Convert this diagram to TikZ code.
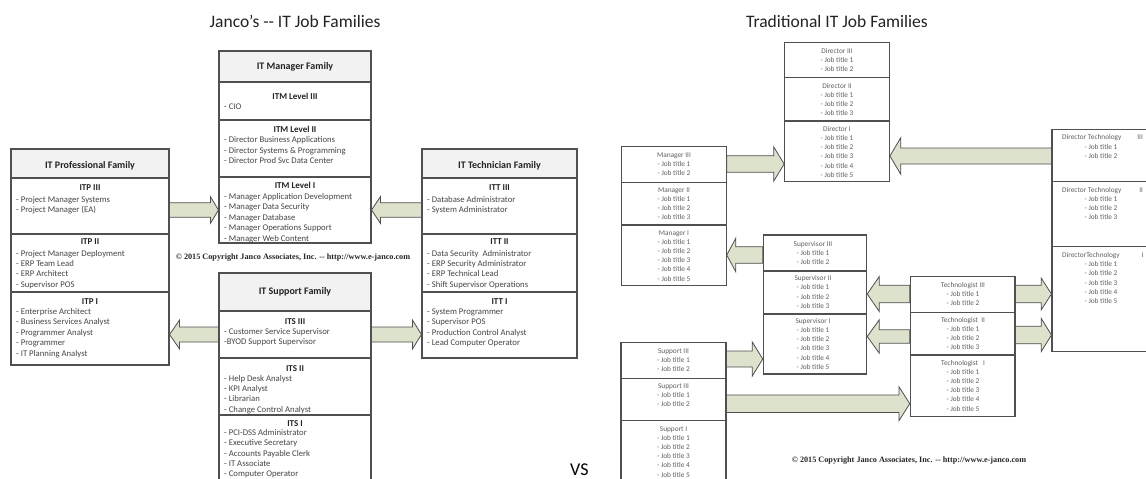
\documentclass[tikz,border=0pt]{standalone}
\usepackage{fontspec}
\setmainfont{Carlito}
\newfontfamily\serifcr{Liberation Serif}
\usetikzlibrary{fit,calc}
\definecolor{arrowfill}{RGB}{220,226,204}
\definecolor{lineg}{RGB}{80,80,80}
\definecolor{hdrfill}{RGB}{242,242,242}
\definecolor{txtdark}{RGB}{35,35,35}
\definecolor{txtitem}{RGB}{70,70,70}
\definecolor{txtgray}{RGB}{95,95,95}
\tikzset{
 box/.style={draw=lineg, line width=1.1pt, inner sep=0pt},
 hdrbox/.style={box, fill=hdrfill},
 hdtext/.style={font=\fontsize{10}{12}\selectfont\bfseries, text=txtdark, inner sep=0pt},
 lvltext/.style={font=\fontsize{9}{11}\selectfont\bfseries, text=txtdark, inner sep=0pt, anchor=base},
 itemtext/.style={font=\fontsize{8.7}{10.4}\selectfont, text=txtitem, align=left, inner sep=0pt, anchor=north west},
 jobtext/.style={font=\fontsize{7.3}{9.2}\selectfont, text=txtgray, align=center, inner sep=0pt, anchor=north},
 dttitle/.style={font=\fontsize{7.3}{9.2}\selectfont, text=txtgray, inner sep=0pt, anchor=base west},
 barrow/.style={draw=lineg, line width=0.8pt, fill=arrowfill, line join=miter},
 maintitle/.style={font=\fontsize{17.5}{20}\selectfont, text=txtdark, inner sep=0pt},
 copyr/.style={font=\serifcr\bfseries\fontsize{8.2}{10}\selectfont, text=black!85, inner sep=0pt}
}
% #1 source, #2 tip, #3 shaft half height, #4 head half height, #5 head length
\newcommand{\blockarr}[5]{%
  \draw[barrow] ($(#1)+(0,-#3)$) -- ($(#2)!#5pt!(#1)+(0,-#3)$) -- ($(#2)!#5pt!(#1)+(0,-#4)$) -- (#2)
   -- ($(#2)!#5pt!(#1)+(0,#4)$) -- ($(#2)!#5pt!(#1)+(0,#3)$) -- ($(#1)+(0,#3)$) -- cycle;}
\begin{document}
\begin{tikzpicture}[x=1pt,y=-1pt]
\useasboundingbox (0,0) rectangle (1146,479);
\fill[white] (0,0) rectangle (1146,479);
\begin{scope}
\clip (0,0) rectangle (1146,479);

% ---------- titles ----------
\node[maintitle] (t1) at (295,21) {Janco’s -{}- IT Job Families};
\node[maintitle] (t2) at (837,21) {Traditional IT Job Families};

% ---------- IT Manager Family ----------
\node[hdrbox, fit={(219,51) (371,82)}] (itmh) {};
\node[box, fit={(219,82) (371,120)}] (itm3) {};
\node[box, fit={(219,120) (371,177)}] (itm2) {};
\node[box, fit={(219,177) (371,243)}] (itm1) {};
\node[hdtext] (itmht) at (295,67) {IT Manager Family};
\node[lvltext] (itm3t) at (295,99) {ITM Level III};
\node[itemtext] (itm3i) at (224,102.1) {\strut- CIO};
\node[lvltext] (itm2t) at (295,132.3) {ITM Level II};
\node[itemtext] (itm2i) at (224,135.4) {\strut- Director Business Applications\\- Director Systems \& Programming\\- Director Prod Svc Data Center};
\node[lvltext] (itm1t) at (295,188.7) {ITM Level I};
\node[itemtext] (itm1i) at (224,192.1) {\strut- Manager Application Development\\- Manager Data Security\\- Manager Database\\- Manager Operations Support\\- Manager Web Content};

% ---------- IT Professional Family ----------
\node[hdrbox, fit={(11,149) (169,178)}] (itph) {};
\node[box, fit={(11,178) (169,234)}] (itp3) {};
\node[box, fit={(11,234) (169,292)}] (itp2) {};
\node[box, fit={(11,292) (169,365)}] (itp1) {};
\node[hdtext] (itpht) at (90,165.5) {IT Professional Family};
\node[lvltext] (itp3t) at (90,190.7) {ITP III};
\node[itemtext] (itp3i) at (16,194.7) {\strut- Project Manager Systems\\- Project Manager (EA)};
\node[lvltext] (itp2t) at (90,244.7) {ITP II};
\node[itemtext] (itp2i) at (16,248.7) {\strut- Project Manager Deployment\\- ERP Team Lead\\- ERP Architect\\- Supervisor POS};
\node[lvltext] (itp1t) at (90,304.7) {ITP I};
\node[itemtext] (itp1i) at (16,307.1) {\strut- Enterprise Architect\\- Business Services Analyst\\- Programmer Analyst\\- Programmer\\- IT Planning Analyst};

% ---------- IT Technician Family ----------
\node[hdrbox, fit={(422,149) (577,178)}] (itth) {};
\node[box, fit={(422,178) (577,234)}] (itt3) {};
\node[box, fit={(422,234) (577,292)}] (itt2) {};
\node[box, fit={(422,292) (577,358)}] (itt1) {};
\node[hdtext] (ittht) at (499.5,165.5) {IT Technician Family};
\node[lvltext] (itt3t) at (499.5,190.7) {ITT III};
\node[itemtext] (itt3i) at (427,194.7) {\strut- Database Administrator\\- System Administrator};
\node[lvltext] (itt2t) at (499.5,244.7) {ITT II};
\node[itemtext] (itt2i) at (427,248.7) {\strut- Data Security\ \ Administrator\\- ERP Security Administrator\\- ERP Technical Lead\\- Shift Supervisor Operations};
\node[lvltext] (itt1t) at (499.5,304.7) {ITT I};
\node[itemtext] (itt1i) at (427,307.1) {\strut- System Programmer\\- Supervisor POS\\- Production Control Analyst\\- Lead Computer Operator};

% ---------- IT Support Family ----------
\node[hdrbox, fit={(219,273) (371,311)}] (itsh) {};
\node[box, fit={(219,311) (371,358)}] (its3) {};
\node[box, fit={(219,358) (371,415)}] (its2) {};
\node[box, fit={(219,415) (371,495)}] (its1) {};
\node[hdtext] (itsht) at (295,292) {IT Support Family};
\node[lvltext] (its3t) at (295,324.7) {ITS III};
\node[itemtext] (its3i) at (224,327.1) {\strut- Customer Service Supervisor\\-BYOD Support Supervisor};
\node[lvltext] (its2t) at (295,371.3) {ITS II};
\node[itemtext] (its2i) at (224,373.7) {\strut- Help Desk Analyst\\- KPI Analyst\\- Librarian\\- Change Control Analyst};
\node[lvltext] (its1t) at (295,426.5) {ITS I};
\node[itemtext, font=\fontsize{8.7}{10.1}\selectfont] (its1i) at (224,428.6) {\strut- PCI-DSS Administrator\\- Executive Secretary\\- Accounts Payable Clerk\\- IT Associate\\- Computer Operator};

\node[copyr] (cp1) at (293,258) {© 2015 Copyright Janco Associates, Inc. -{}- http://www.e-janco.com};

% ---------- left arrows ----------
\coordinate (a1s) at (itp3.east |- 0,210);
\coordinate (a1t) at (itm1.west |- 0,210);
\coordinate (a2s) at (itt3.west |- 0,210);
\coordinate (a2t) at (itm1.east |- 0,210);
\coordinate (a3s) at (its3.west |- 0,334.5);
\coordinate (a3t) at (itp1.east |- 0,334.5);
\coordinate (a4s) at (its3.east |- 0,334.5);
\coordinate (a4t) at (itt1.west |- 0,334.5);
\blockarr{a1s}{a1t}{7.2}{13.3}{8}
\blockarr{a2s}{a2t}{7.2}{13.5}{9}
\blockarr{a3s}{a3t}{7.5}{14.5}{10}
\blockarr{a4s}{a4t}{7.5}{14.5}{9}

% ---------- Traditional: Director ----------
\node[box, fit={(784.7,42.7) (889.4,77.7)}] (dir3) {};
\node[box, fit={(784.7,77.7) (889.4,121)}] (dir2) {};
\node[box, fit={(784.7,121) (889.4,181.7)}] (dir1) {};
\node[jobtext] (dir3x) at (837,46.75) {\strut Director III\\- Job title 1\\- Job title 2};
\node[jobtext] (dir2x) at (837,81.45) {\strut Director II\\- Job title 1\\- Job title 2\\- Job title 3};
\node[jobtext] (dir1x) at (837,124.75) {\strut Director I\\- Job title 1\\- Job title 2\\- Job title 3\\- Job title 4\\- Job title 5};

% ---------- Manager ----------
\node[box, fit={(621.5,146.7) (726.2,182.3)}] (mgr3) {};
\node[box, fit={(621.5,182.3) (726.2,225)}] (mgr2) {};
\node[box, fit={(621.5,225) (726.2,285.7)}] (mgr1) {};
\node[jobtext] (mgr3x) at (674,150.75) {\strut Manager III\\- Job title 1\\- Job title 2};
\node[jobtext] (mgr2x) at (674,185.75) {\strut Manager II\\- Job title 1\\- Job title 2\\- Job title 3};
\node[jobtext] (mgr1x) at (674,228.45) {\strut Manager I\\- Job title 1\\- Job title 2\\- Job title 3\\- Job title 4\\- Job title 5};

% ---------- Supervisor ----------
\node[box, fit={(763.3,235) (866.7,271)}] (sup3) {};
\node[box, fit={(763.3,271) (866.7,314)}] (sup2) {};
\node[box, fit={(763.3,314) (866.7,374)}] (sup1) {};
\node[jobtext] (sup3x) at (813,239.75) {\strut Supervisor III\\- Job title 1\\- Job title 2};
\node[jobtext] (sup2x) at (813,274.05) {\strut Supervisor II\\- Job title 1\\- Job title 2\\- Job title 3};
\node[jobtext] (sup1x) at (813,316.75) {\strut Supervisor I\\- Job title 1\\- Job title 2\\- Job title 3\\- Job title 4\\- Job title 5};

% ---------- Technologist ----------
\node[box, fit={(910.3,276.7) (1015,312.3)}] (tech3) {};
\node[box, fit={(910.3,312.3) (1015,355)}] (tech2) {};
\node[box, fit={(910.3,355) (1015,416.7)}] (tech1) {};
\node[jobtext] (tech3x) at (963,280.75) {\strut Technologist III\\- Job title 1\\- Job title 2};
\node[jobtext] (tech2x) at (963,315.75) {\strut Technologist\ \ II\\- Job title 1\\- Job title 2\\- Job title 3};
\node[jobtext] (tech1x) at (963,358.45) {\strut Technologist\ \ \ I\\- Job title 1\\- Job title 2\\- Job title 3\\- Job title 4\\- Job title 5};

% ---------- Support ----------
\node[box, fit={(621,342.3) (726,378.3)}] (spt3) {};
\node[box, fit={(621,378.3) (726,420.7)}] (spt2) {};
\node[box, fit={(621,420.7) (726,495)}] (spt1) {};
\node[jobtext] (spt3x) at (673.5,346.75) {\strut Support III\\- Job title 1\\- Job title 2};
\node[jobtext] (spt2x) at (673.5,381.75) {\strut Support III\\- Job title 1\\- Job title 2};
\node[jobtext] (spt1x) at (673.5,424.5) {\strut Support I\\- Job title 1\\- Job title 2\\- Job title 3\\- Job title 4\\- Job title 5};

% ---------- Director Technology ----------
\node[box, fit={(1052,129.3) (1165,181.7)}] (dt3) {};
\node[box, fit={(1052,181.7) (1165,246.7)}] (dt2) {};
\node[box, fit={(1052,246.7) (1165,351.7)}] (dt1) {};
\node[dttitle] (dt3t) at (1062,139.5) {Director Technology\hspace{16pt}III};
\node[jobtext] (dt3x) at (1101,142.45) {\strut- Job title 1\\- Job title 2};
\node[dttitle] (dt2t) at (1062,192.2) {Director Technology\hspace{18pt}II};
\node[jobtext] (dt2x) at (1101,194.75) {\strut- Job title 1\\- Job title 2\\- Job title 3};
\node[dttitle] (dt1t) at (1062,257.2) {DirectorTechnology\hspace{22pt}I};
\node[jobtext] (dt1x) at (1101,260.05) {\strut- Job title 1\\- Job title 2\\- Job title 3\\- Job title 4\\- Job title 5};

\node[copyr] (cp2) at (909,461) {© 2015 Copyright Janco Associates, Inc. -{}- http://www.e-janco.com};
\node[font=\fontsize{18}{22}\selectfont, text=black, inner sep=0pt, anchor=base west] (vs) at (570,475) {VS};

% ---------- right arrows ----------
\coordinate (r1s) at (mgr3.east |- 0,164);
\coordinate (r1t) at (dir1.west |- 0,164);
\coordinate (r2s) at (dt3.west |- 0,156);
\coordinate (r2t) at (dir1.east |- 0,156);
\coordinate (r3s) at (sup3.west |- 0,255);
\coordinate (r3t) at (mgr1.east |- 0,255);
\coordinate (r4s) at (tech3.west |- 0,294);
\coordinate (r4t) at (sup2.east |- 0,294);
\coordinate (r5s) at (tech3.east |- 0,294);
\coordinate (r5t) at (dt1.west |- 0,294);
\coordinate (r6s) at (tech2.west |- 0,336.5);
\coordinate (r6t) at (sup1.east |- 0,336.5);
\coordinate (r7s) at (tech2.east |- 0,335);
\coordinate (r7t) at (dt1.west |- 0,335);
\coordinate (r8s) at (spt3.east |- 0,359);
\coordinate (r8t) at (sup1.west |- 0,359);
\coordinate (r9s) at (spt2.east |- 0,403.7);
\coordinate (r9t) at (tech1.west |- 0,403.7);
\blockarr{r1s}{r1t}{8.3}{17.2}{10.5}
\blockarr{r2s}{r2t}{8}{18.3}{10.8}
\blockarr{r3s}{r3t}{8.3}{16.7}{9}
\blockarr{r4s}{r4t}{8.8}{17.5}{12}
\blockarr{r5s}{r5t}{8.8}{16}{10.3}
\blockarr{r6s}{r6t}{6.7}{16.7}{12}
\blockarr{r7s}{r7t}{8.8}{16.7}{10.3}
\blockarr{r8s}{r8t}{8}{17.2}{10.6}
\blockarr{r9s}{r9t}{8.8}{17}{10.8}
\end{scope}
\end{tikzpicture}
\end{document}
